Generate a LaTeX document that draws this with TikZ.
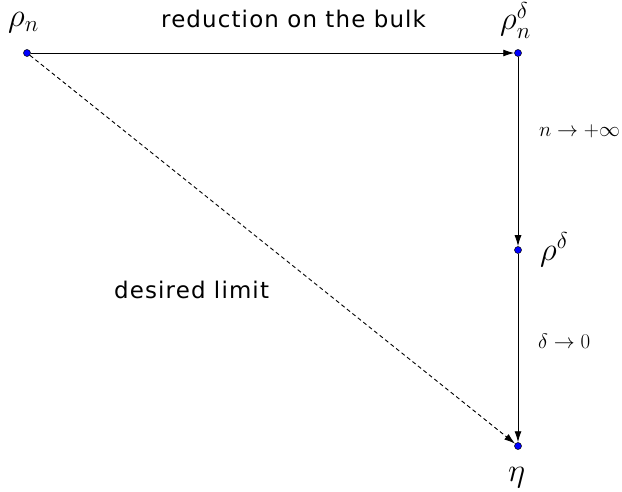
\RequirePackage{fix-cm}
\documentclass[tikz,border=0pt]{standalone}
\usepackage{fontspec}
\setsansfont{DejaVu Sans}[LetterSpace=5]
\usetikzlibrary{arrows.meta}
\tikzset{
  pt/.style={circle,draw=black,fill=blue,inner sep=0pt,minimum size=7bp,line width=0.5bp},
  conn/.style={line width=0.9bp,-{Latex[length=11bp,width=7bp]},shorten >=0pt},
  bigmath/.style={font=\fontsize{33}{35}\selectfont,inner sep=0pt,anchor=base west},
  smallmath/.style={font=\fontsize{21}{23}\selectfont,inner sep=0pt,anchor=base west},
  lab/.style={font=\sffamily\fontsize{23}{25}\selectfont,inner sep=0pt,anchor=base west}
}
\begin{document}
\begin{tikzpicture}[x=1bp,y=-1bp]
\useasboundingbox (0,0) rectangle (622,492);
\node[pt] (a) at (27,53) {};
\node[pt] (b) at (518,53) {};
\node[pt] (c) at (518,250) {};
\node[pt] (d) at (518,446) {};
\draw[conn] (a) -- (b);
\draw[conn] (b) -- (c);
\draw[conn] (c) -- (d);
\draw[conn,dashed,dash pattern=on 4bp off 3bp] (a) -- (d);
\node[bigmath] (la) at (8,27) {$\rho_n$};
\node[bigmath] (lb) at (500,30) {$\rho_n^\delta$};
\node[bigmath] (lc) at (540,260) {$\rho^\delta$};
\node[bigmath] (ld) at (508,481) {$\eta$};
\node[smallmath] (l1) at (539,137) {$n\to+\infty$};
\node[smallmath] (l2) at (538,348) {$\delta\to0$};
\node[lab] (t1) at (161,28) {reduction on the bulk};
\node[lab] (t2) at (114,298) {desired limit};
\end{tikzpicture}
\end{document}
